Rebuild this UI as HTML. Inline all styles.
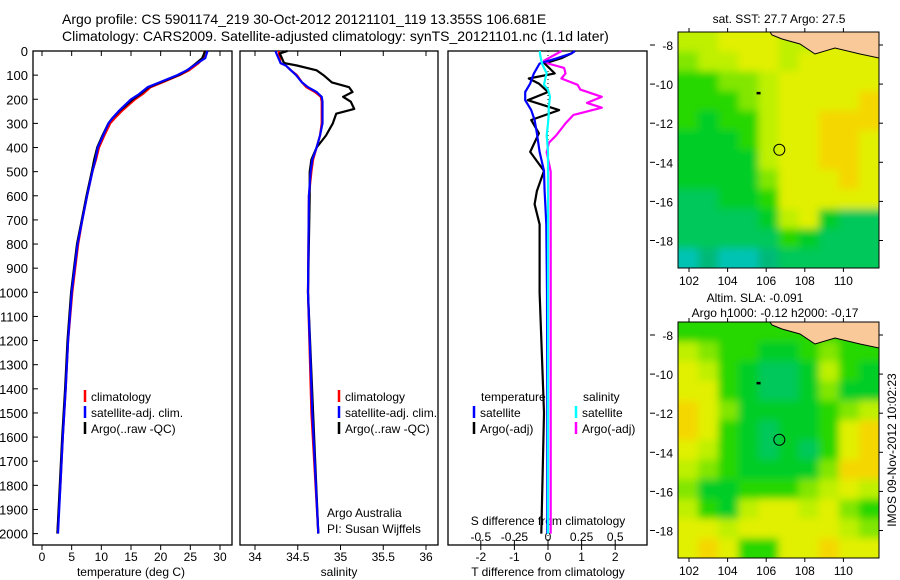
<!DOCTYPE html>
<html><head><meta charset="utf-8"><style>
html,body{margin:0;padding:0;background:#fff;}
svg{display:block;font-family:"Liberation Sans",sans-serif;}
</style></head><body>
<svg id="fig" width="900" height="580" viewBox="0 0 900 580" xmlns="http://www.w3.org/2000/svg">
<g id="titles">
<text x="62" y="24" font-size="14">Argo profile: CS 5901174_219 30-Oct-2012 20121101_119 13.355S 106.681E</text>
<text x="62" y="41" font-size="14">Climatology: CARS2009. Satellite-adjusted climatology: synTS_20121101.nc (1.1d later)</text>
</g>
<g id="g1"></g><g id="g2"></g><g id="g3"></g><g id="m1"></g><g id="m2"></g>
<text transform="translate(896,450) rotate(-90)" text-anchor="middle" font-size="12">IMOS 09-Nov-2012 10:02:23</text>
</svg>
<script>
// ---------- data ----------
const tDepth = [0,30,50,80,100,130,150,180,200,250,280,300,350,400,450,500,600,700,800,900,1000,1200,1400,1600,1800,2000];
const tArgo  = [27.5,27,26,24.5,23,20,18,16.5,15.3,13,11.8,11.2,10.2,9.3,8.8,8.4,7.5,6.7,5.9,5.4,4.9,4.3,3.9,3.4,3.0,2.6];
const tClim  = [27.4,27.2,26.4,24.8,23.2,20.3,18.3,16.9,15.7,13.4,12.2,11.5,10.5,9.6,9.1,8.5,7.6,6.8,6.1,5.6,5.1,4.4,4.0,3.5,3.1,2.6];
const tSat   = [27.9,27.5,26.2,24.4,22.8,19.8,17.8,16.3,15.0,12.9,11.8,11.2,10.3,9.4,9.0,8.5,7.6,6.8,6.0,5.5,5.0,4.4,4.0,3.5,3.1,2.7];
const sDepth = [0,10,50,60,80,100,130,150,170,190,210,240,260,300,350,400,450,500,600,1000,1500,2000];
const sArgo  = [34.38,34.29,34.34,34.49,34.72,34.8,34.9,35.1,35.14,35.03,35.12,35.16,34.95,34.91,34.83,34.72,34.66,34.64,34.64,34.62,34.68,34.74];
const sClim  = [34.28,34.28,34.3,34.36,34.42,34.49,34.55,34.6,34.7,34.77,34.78,34.78,34.78,34.78,34.76,34.72,34.68,34.66,34.63,34.62,34.66,34.74];
const sSat   = [34.24,34.25,34.3,34.36,34.42,34.48,34.55,34.62,34.72,34.78,34.79,34.79,34.79,34.79,34.76,34.72,34.67,34.65,34.63,34.62,34.67,34.74];
const dDepth = [0,10,30,52,93,114,135,170,204,245,286,341,418,497,580,635,718,1000,1500,2000];
const dTArgo = [0.8,0.7,0.4,-0.1,0.2,-0.57,-0.27,0,-0.6,0.33,-0.5,-0.27,-0.53,-0.12,-0.33,-0.4,-0.25,-0.25,-0.12,-0.2];
const dTSat  = [0.8,0.7,0.27,-0.25,-0.42,-0.48,-0.53,-0.68,-0.68,-0.5,-0.4,-0.33,-0.25,-0.12,-0.1,-0.08,-0.05,-0.03,-0.02,-0.02];
const sdDepth = [0,10,40,52,70,93,114,140,160,190,215,235,265,300,350,380,420,500,700,1500,2000];
const dSArgo = [0.1,0.07,-0.03,0,0.12,0.13,0.1,0.22,0.24,0.4,0.29,0.4,0.19,0.13,0.06,0.007,-0.01,0.02,0.02,0.02,0.02];
const dSSat  = [-0.06,-0.06,-0.05,-0.045,-0.03,-0.01,-0.02,-0.03,0.0,0.015,0.01,0.005,0.005,0,-0.01,-0.005,0,0,0,0,0];
const depthTicks = [0,100,200,300,400,500,600,700,800,900,1000,1100,1200,1300,1400,1500,1600,1700,1800,1900,2000];
const tTicks = [0,5,10,15,20,25,30];
const sTicks = [34,34.5,35,35.5,36];
const sTickLabels = ["34","34.5","35","35.5","36"];
const dTTicks = [-2,-1,0,1,2];
const dSTicks = [-0.5,-0.25,0,0.25,0.5];
const dSTickLabels = ["-0.5","-0.25","0","0.25","0.5"];
// map fields (digit 0..9), rows top->bottom
const sstField = ["7788877888","6778878888","5566788888","5556788889","5455788999","4445788998","4444788998","4444688898","3344588888","3333478433","3333354333","1211233333"];
const slaField = ["5555555555","7655445655","8754334754","8854334644","9864444567","9854344589","8754343589","7654444699","6445556787","7547887865","8878888876","8985588988"];
const latTicks = [-8,-10,-12,-14,-16,-18];
const lonTicks = [102,104,106,108,110];

// ---------- helpers ----------
const NS="http://www.w3.org/2000/svg";
function el(tag,attrs,parent){const e=document.createElementNS(NS,tag);for(const k in attrs)e.setAttribute(k,attrs[k]);parent.appendChild(e);return e;}
const Y0=51, PY=0.2413, PB=545;
const yD = d => Y0 + d*PY;
const xT = t => 42 + t*5.933;
const xS = s => 255 + (s-34)*85.5;
const xDT = v => 548 + v*33.6;
const xDS = v => 548 + v*134.4;
function txt(p,x,y,s,anchor,size,name){const t=el('text',{x:x,y:y,'font-size':size||12,'text-anchor':anchor||'start'},p);t.textContent=s;return t;}
function frame(p,x0,x1,name){const r=el('rect',{x:x0,y:Y0,width:x1-x0,height:PB-Y0,fill:'none',stroke:'#000','stroke-width':1.3},p);}
function line(p,xs,ds,fx,color,name,w){const pts=ds.map((d,i)=>fx(xs[i]).toFixed(1)+','+yD(d).toFixed(1)).join(' ');const l=el('polyline',{points:pts,fill:'none',stroke:color,'stroke-width':w||2.2,'stroke-linejoin':'round'},p);}
function legend(p,x,y,color,label,name){const l=el('line',{x1:x,x2:x,y1:y-11,y2:y+1,stroke:color,'stroke-width':2.5},p);txt(p,x+6,y,label,'start',12,name);}

// ---------- panel 1 ----------
const g1=document.getElementById('g1');

frame(g1,33,232,'temperature-plot-frame');
depthTicks.forEach(d=>{el('line',{x1:33,x2:38,y1:yD(d),y2:yD(d),stroke:'#000'},g1);txt(g1,28,yD(d)+5,String(d),'end',13,'depth-tick-label');});
tTicks.forEach(t=>{el('line',{x1:xT(t),x2:xT(t),y1:PB,y2:PB+5,stroke:'#000'},g1);el('line',{x1:xT(t),x2:xT(t),y1:Y0,y2:Y0+5,stroke:'#000'},g1);txt(g1,xT(t),561,String(t),'middle',12,'temperature-tick-label');});
txt(g1,131,576,'temperature (deg C)','middle',12,'x-axis-title-temperature');
line(g1,tClim,tDepth,xT,'#f00','temperature-climatology-line');
line(g1,tArgo,tDepth,xT,'#000','temperature-argo-line');
line(g1,tSat,tDepth,xT,'#00f','temperature-satellite-line');
legend(g1,85,401,'#f00','climatology','legend-climatology');
legend(g1,85,417,'#00f','satellite-adj. clim.','legend-satellite');
legend(g1,85,433,'#000','Argo(..raw -QC)','legend-argo');

// ---------- panel 2 ----------
const g2=document.getElementById('g2');

frame(g2,240,438,'salinity-plot-frame');
sTicks.forEach((s,i)=>{el('line',{x1:xS(s),x2:xS(s),y1:PB,y2:PB+5,stroke:'#000'},g2);el('line',{x1:xS(s),x2:xS(s),y1:Y0,y2:Y0+5,stroke:'#000'},g2);txt(g2,xS(s),561,sTickLabels[i],'middle',12,'salinity-tick-label');});
txt(g2,339,576,'salinity','middle',12,'x-axis-title-salinity');
line(g2,sClim,sDepth,xS,'#f00','salinity-climatology-line');
line(g2,sArgo,sDepth,xS,'#000','salinity-argo-line');
line(g2,sSat,sDepth,xS,'#00f','salinity-satellite-line');
legend(g2,339,401,'#f00','climatology','legend-climatology-s');
legend(g2,339,417,'#00f','satellite-adj. clim.','legend-satellite-s');
legend(g2,339,433,'#000','Argo(..raw -QC)','legend-argo-s');
txt(g2,327,517,'Argo Australia','start',12,'argo-australia-note');
txt(g2,327,533,'PI: Susan Wijffels','start',12,'pi-note');

// ---------- panel 3 ----------
const g3=document.getElementById('g3');

frame(g3,448,647,'difference-plot-frame');
el('line',{x1:xDT(0),x2:xDT(0),y1:Y0,y2:PB,stroke:'#000','stroke-dasharray':'1,3'},g3);
dTTicks.forEach(v=>{el('line',{x1:xDT(v),x2:xDT(v),y1:PB,y2:PB+5,stroke:'#000'},g3);txt(g3,xDT(v),561,String(v),'middle',12,'t-diff-tick-label');});
dSTicks.forEach((v,i)=>{el('line',{x1:xDS(v),x2:xDS(v),y1:PB,y2:PB-5,stroke:'#000'},g3);txt(g3,xDS(v),541,dSTickLabels[i],'middle',12,'s-diff-tick-label');});
txt(g3,548,576,'T difference from climatology','middle',12,'x-axis-title-t-diff');
txt(g3,548,525,'S difference from climatology','middle',12,'s-diff-axis-title');
line(g3,dTArgo,dDepth,xDT,'#000','t-diff-argo-line');
line(g3,dSArgo,sdDepth,xDS,'#f0f','s-diff-argo-line');
line(g3,dTSat,dDepth,xDT,'#00f','t-diff-satellite-line');
line(g3,dSSat,sdDepth,xDS,'#0ff','s-diff-satellite-line');
txt(g3,481,401,'temperature','start',12,'legend-temperature-header');
legend(g3,474,417,'#00f','satellite','legend-t-satellite');
legend(g3,474,433,'#000','Argo(-adj)','legend-t-argo');
txt(g3,583,401,'salinity','start',12,'legend-salinity-header');
legend(g3,576,417,'#0ff','satellite','legend-s-satellite');
legend(g3,576,433,'#f0f','Argo(-adj)','legend-s-argo');

// ---------- maps ----------
const cmap=[[0,215,235],[0,195,180],[0,185,120],[0,200,90],[0,205,40],[40,215,0],[130,230,0],[190,240,0],[225,240,0],[245,215,0]];
function drawMap(gid,field,top,title,name,blurId){
  const g=document.getElementById(gid);
  
  const X0=678,X1=879,H=236,bot=top+H;
  const lon=v=>689+(v-102)*19.3, lat=v=>top+13+(-8-v)*19.55;
  const f=el('filter',{id:blurId,x:'-10%',y:'-10%',width:'120%',height:'120%'},g);el('feGaussianBlur',{stdDeviation:4},f);
  const cp=el('clipPath',{id:blurId+'c'},g);el('rect',{x:X0,y:top,width:X1-X0,height:H},cp);
  const cg=el('g',{'clip-path':'url(#'+blurId+'c)'},g);
  const inner=el('g',{filter:'url(#'+blurId+')'},cg);
  const rows=field.length, cols=field[0].length, cw=(X1-X0)/cols, ch=H/rows;
  field.forEach((r,i)=>{for(let j=0;j<cols;j++){const c=cmap[+r[j]];const cell=el('rect',{x:X0+j*cw-(j==0?12:0),y:top+i*ch-(i==0?12:0),width:cw+1+(j==0||j==cols-1?12:0),height:ch+1+(i==0||i==rows-1?12:0),fill:'rgb('+c+')'},inner);}});
  const land=el('path',{d:`M${X0+92},${top} L${X1},${top} L${X1},${top+26} L860,${top+22} L835,${top+16} L815,${top+22} L800,${top+12} L782,${top+7} L772,${top+3} Z`,fill:'#f9c999',stroke:'#000','stroke-width':1},cg);
  
  el('rect',{x:X0,y:top,width:X1-X0,height:H,fill:'none',stroke:'#000','stroke-width':1},g);
  const c=el('circle',{cx:lon(106.68),cy:lat(-13.36),r:5.5,fill:'none',stroke:'#000','stroke-width':1},g);
  
  el('rect',{x:lon(105.5),y:lat(-10.45)-1,width:4,height:2.5,fill:'#000'},g);
  latTicks.forEach(v=>{el('line',{x1:650,x2:655,y1:lat(v),y2:lat(v),stroke:'#000'},g);el('line',{x1:X1,x2:X1+4,y1:lat(v),y2:lat(v),stroke:'#000'},g);txt(g,X0-5,lat(v)+5,String(v),'end',12,'latitude-tick-label');});
  lonTicks.forEach(v=>{el('line',{x1:lon(v),x2:lon(v),y1:bot,y2:bot+4,stroke:'#000'},g);el('line',{x1:lon(v),x2:lon(v),y1:top-4,y2:top,stroke:'#000'},g);txt(g,lon(v),bot+17,String(v),'middle',12,'longitude-tick-label');});
  title.forEach((t,i)=>txt(g,t[0],t[1],t[2],'middle',12,'map-title'));
}
drawMap('m1',sstField,32,[[779,23,'sat. SST: 27.7  Argo: 27.5']],'sst-map','b1');
drawMap('m2',slaField,322,[[755,302,'Altim. SLA: -0.091'],[775,317,'Argo h1000: -0.12 h2000: -0.17']],'sla-map','b2');
</script>
</body></html>
